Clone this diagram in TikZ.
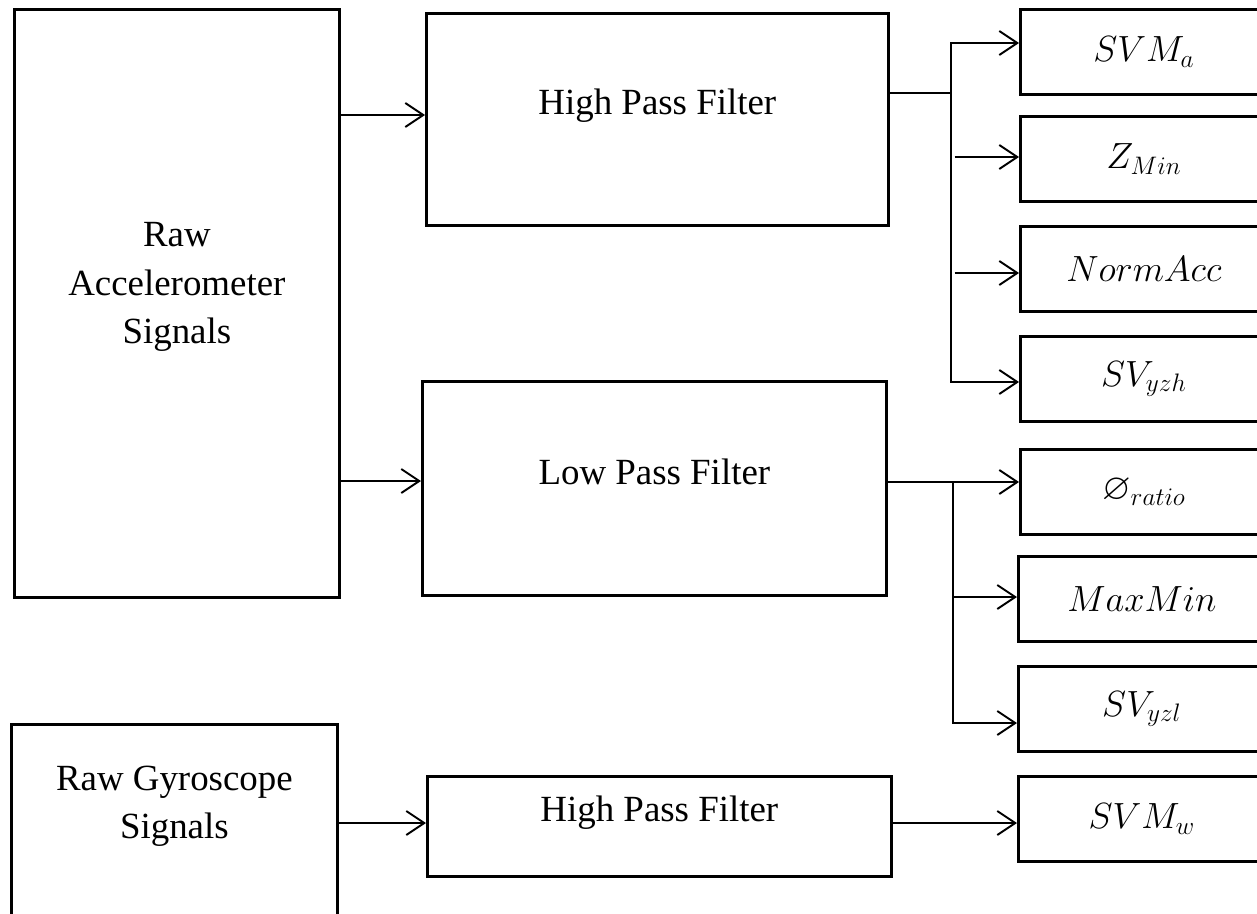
\documentclass[tikz,border=0pt]{standalone}
\usepackage{amssymb}
\usepackage{fontspec}
\setmainfont{Liberation Serif}
\usetikzlibrary{arrows.meta}

\tikzset{
  blk/.style={draw, line width=1.6pt, inner sep=0pt, anchor=north west, align=center,
    font=\fontsize{21}{27.5}\selectfont},
  feat/.style={blk, minimum width=4.94cm, minimum height=1.7cm},
  wire/.style={line width=1.1pt},
  arr/.style={wire, -{Straight Barb[length=0.36cm,width=0.48cm]}}
}

\begin{document}
\begin{tikzpicture}[x=0.02cm, y=-0.02cm]
  \useasboundingbox (0,0) rectangle (1257,913);
  % raw signals
  \node[blk, minimum width=6.5cm, text height=6.68cm, text depth=5.08cm] (acc) at (13,8) {Raw\\Accelerometer\\Signals};
  \node[blk, minimum width=6.52cm, text height=2.28cm, text depth=2.06cm] (gyr) at (10,723) {Raw Gyroscope\\Signals};
  % filters
  \node[blk, minimum width=9.24cm, text height=2.02cm, text depth=2.22cm] (hpfa) at (425,12) {High Pass Filter};
  \node[blk, minimum width=9.28cm, text height=2.06cm, text depth=2.22cm] (lpfa) at (421,380) {Low Pass Filter};
  \node[blk, minimum width=9.28cm, text height=0.9cm, text depth=1.1cm] (hpfg) at (426,775) {High Pass Filter};
  % features
  \node[feat] (svma) at (1019,8) {$SVM_a$};
  \node[feat] (zmin) at (1019,115) {$Z_{Min}$};
  \node[feat] (nacc) at (1019,225) {$NormAcc$};
  \node[feat] (svyzh) at (1019,335) {$SV_{yzh}$};
  \node[feat] (phir) at (1019,448) {$\varnothing_{ratio}$};
  \node[feat] (mxmn) at (1017,555) {$MaxMin$};
  \node[feat] (svyzl) at (1017,665) {$SV_{yzl}$};
  \node[feat] (svmw) at (1017,775) {$SVM_w$};
  % connectors
  \coordinate (hb) at (951,93);
  \coordinate (lb) at (953,482);
  \draw[arr] (acc.east |- 0,115) -- (hpfa.west |- 0,115);
  \draw[arr] (acc.east |- 0,481) -- (lpfa.west |- 0,481);
  \draw[arr] (gyr.east |- 0,823) -- (hpfg.west |- 0,823);
  \draw[wire] (hpfa.east |- hb) -- (hb);
  \draw[arr] (hb) |- (svma.west |- 0,43);
  \draw[arr] (hb) |- (svyzh.west |- 0,382);
  \foreach \n/\y in {zmin/157, nacc/273}
    \draw[arr, shorten <=2pt] (hb |- 0,\y) -- (\n.west |- 0,\y);
  \draw[arr] (lpfa.east |- lb) -- (phir.west |- lb);
  \draw[arr] (lb) |- (svyzl.west |- 0,723);
  \draw[arr] (lb |- 0,597) -- (mxmn.west |- 0,597);
  \draw[arr] (hpfg.east |- 0,823) -- (svmw.west |- 0,823);
\end{tikzpicture}
\end{document}
